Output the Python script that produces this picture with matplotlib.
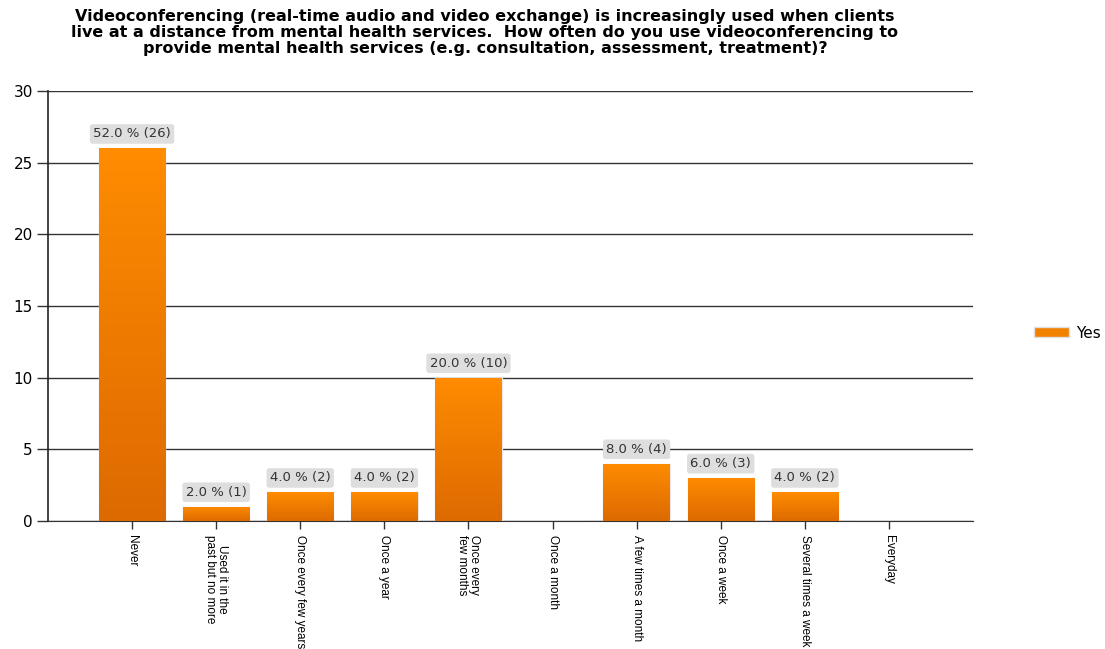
import numpy as np
import matplotlib
matplotlib.use('Agg')
import matplotlib.pyplot as plt
from matplotlib.patches import Patch

categories = ['Never', 'Used it in the\npast but no more', 'Once every few years', 'Once a year',
              'Once every\nfew months', 'Once a month', 'A few times a month', 'Once a week',
              'Several times a week', 'Everyday']
counts = [26, 1, 2, 2, 10, 0, 4, 3, 2, 0]
percents = [52.0, 2.0, 4.0, 4.0, 20.0, 0.0, 8.0, 6.0, 4.0, 0.0]

title = ('Videoconferencing (real-time audio and video exchange) is increasingly used when clients\n'
         'live at a distance from mental health services.  How often do you use videoconferencing to\n'
         'provide mental health services (e.g. consultation, assessment, treatment)?')

plt.rcParams['font.family'] = ['DejaVu Sans']

fig = plt.figure(figsize=(11.05, 6.49), dpi=100)
ax = fig.add_axes([48 / 1105, 1 - 521 / 649, (973 - 48) / 1105, (521 - 91) / 649])

x = np.arange(len(categories))
bars = ax.bar(x, counts, width=0.79, color='#F28100', edgecolor='#E8E8E8', linewidth=1.0, zorder=3)

# vertical gradient inside each bar
grad = np.linspace(0, 1, 256).reshape(-1, 1)
cmap = matplotlib.colors.LinearSegmentedColormap.from_list('og', ['#DD6A00', '#FF8C00'])
for b in bars:
    if b.get_height() <= 0:
        continue
    x0, w, h = b.get_x(), b.get_width(), b.get_height()
    im = ax.imshow(grad, cmap=cmap, aspect='auto', origin='lower',
                   extent=[x0, x0 + w, 0, h], zorder=3.5)
    im.set_clip_path(b)

for xi, c, p in zip(x, counts, percents):
    if c == 0:
        continue
    ax.text(xi, c + 0.55, f'{p:.1f} % ({c})', ha='center', va='bottom', fontsize=9.5,
            color='#333333', zorder=5,
            bbox=dict(boxstyle='round,pad=0.25,rounding_size=0.2', fc='#DEDEDE', ec='none'))

ax.set_xlim(-1, 10)
ax.set_ylim(0, 30)
ax.set_yticks([0, 5, 10, 15, 20, 25, 30])
ax.yaxis.grid(True, color='#333333', linewidth=1.0, zorder=1)
ax.set_axisbelow(True)
ax.set_xticks(x)
ax.set_xticklabels(categories, rotation=270, fontsize=8.5, family='Liberation Sans',
                   va='top', ha='center', linespacing=1.0)
ax.tick_params(axis='y', labelsize=11, length=8, width=1, color='#333333', pad=3)
ax.tick_params(axis='x', length=6, width=1, color='#333333', pad=4)
for s in ['top', 'right']:
    ax.spines[s].set_visible(False)
ax.spines['left'].set_color('#222222')
ax.spines['bottom'].set_color('#333333')
ax.spines['left'].set_linewidth(1.2)

fig.text(485 / 1105, 1 - 9 / 649, title, ha='center', va='top', fontsize=11.5,
         fontweight='bold', linespacing=1.1)

fig.legend(handles=[Patch(facecolor='#F28100', edgecolor='#E0E0E0', label='Yes')],
           loc='center left', bbox_to_anchor=(1020 / 1105, 1 - 333 / 649), frameon=False,
           fontsize=11, handlelength=2.3, handleheight=0.6, handletextpad=0.5)

fig.savefig('out.png', dpi=100)
